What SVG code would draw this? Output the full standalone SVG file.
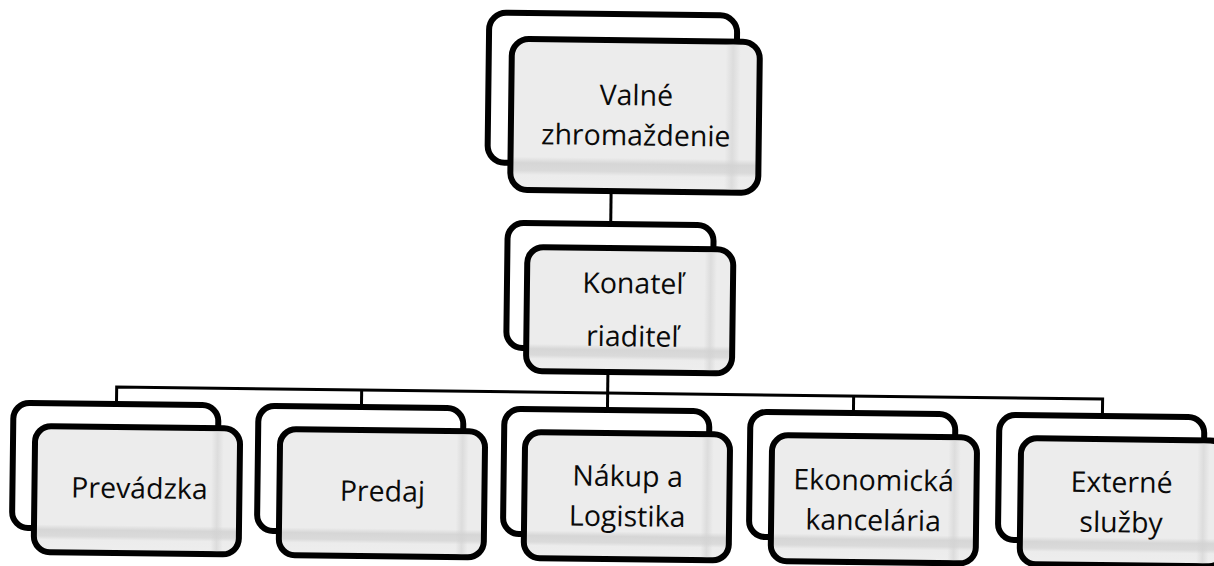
<svg xmlns="http://www.w3.org/2000/svg" width="1214" height="566" viewBox="0 0 1214 566">
<defs>
<linearGradient id="gV" x1="0" y1="0" x2="0" y2="1">
<stop offset="0" stop-color="#ececec"/>
<stop offset="0.78" stop-color="#ececec"/>
<stop offset="0.82" stop-color="#d6d6d6"/>
<stop offset="0.87" stop-color="#dadada"/>
<stop offset="0.9" stop-color="#ececec"/>
<stop offset="1" stop-color="#eeeeee"/>
</linearGradient>
<linearGradient id="gH" x1="0" y1="0" x2="1" y2="0">
<stop offset="0" stop-color="#d0d0d0" stop-opacity="0"/>
<stop offset="0.87" stop-color="#d0d0d0" stop-opacity="0"/>
<stop offset="0.9" stop-color="#d2d2d2" stop-opacity="0.6"/>
<stop offset="0.93" stop-color="#d0d0d0" stop-opacity="0"/>
<stop offset="1" stop-color="#d0d0d0" stop-opacity="0"/>
</linearGradient>
</defs>
<style>
.back{fill:#ffffff;stroke:#000;stroke-width:6}
.front{fill:url(#gV);stroke:#000;stroke-width:6}
.band{fill:url(#gH);stroke:none}
.conn{fill:none;stroke:#000;stroke-width:3}
text{font-family:"Open Sans","Noto Sans","DejaVu Sans",sans-serif;font-size:28.5px;fill:#0a0a0a;text-anchor:middle}
</style>
<rect width="1214" height="566" fill="#ffffff"/>
<g id="diagram" transform="rotate(0.7 607 283)">
<g id="connectors">
<path class="conn" d="M610 191 V224"/>
<path class="conn" d="M609 372 V410"/>
<path class="conn" d="M118 410 V393 H1104 V410"/>
<path class="conn" d="M363 393 V410"/>
<path class="conn" d="M855 393 V410"/>
</g>
<g id="valne">
<rect class="back" x="486" y="14" width="248" height="150" rx="17"/>
<rect class="front" x="509" y="40" width="248" height="151" rx="17"/>
<rect class="band" x="509" y="43" width="246" height="145"/>
<text x="634" y="105">Valné</text>
<text x="634" y="145">zhromaždenie</text>
</g>
<g id="konatel">
<rect class="back" x="507" y="224" width="206" height="125" rx="16"/>
<rect class="front" x="527" y="248" width="206" height="124" rx="16"/>
<rect class="band" x="527" y="251" width="204" height="118"/>
<text x="633" y="293">Konateľ</text>
<text x="633" y="346">riaditeľ</text>
</g>
<g id="prevadzka">
<rect class="back" x="15" y="410" width="205" height="125" rx="16"/>
<rect class="front" x="37" y="433" width="205" height="126" rx="16"/>
<rect class="band" x="37" y="436" width="203" height="120"/>
<text x="142" y="504">Prevádzka</text>
</g>
<g id="predaj">
<rect class="back" x="260" y="410" width="205" height="125" rx="16"/>
<rect class="front" x="282" y="433" width="205" height="126" rx="16"/>
<rect class="band" x="282" y="436" width="203" height="120"/>
<text x="385" y="504">Predaj</text>
</g>
<g id="nakup">
<rect class="back" x="506" y="410" width="205" height="125" rx="16"/>
<rect class="front" x="527" y="433" width="205" height="126" rx="16"/>
<rect class="band" x="527" y="436" width="203" height="120"/>
<text x="630" y="486">Nákup a</text>
<text x="630" y="526">Logistika</text>
</g>
<g id="ekonomicka">
<rect class="back" x="752" y="410" width="205" height="125" rx="16"/>
<rect class="front" x="774" y="433" width="205" height="126" rx="16"/>
<rect class="band" x="774" y="436" width="203" height="120"/>
<text x="876" y="487">Ekonomická</text>
<text x="876" y="527">kancelária</text>
</g>
<g id="externe">
<rect class="back" x="1001" y="410" width="205" height="125" rx="16"/>
<rect class="front" x="1023" y="433" width="205" height="126" rx="16"/>
<rect class="band" x="1023" y="436" width="203" height="120"/>
<text x="1124" y="486">Externé</text>
<text x="1124" y="526">služby</text>
</g>
</g>
</svg>
